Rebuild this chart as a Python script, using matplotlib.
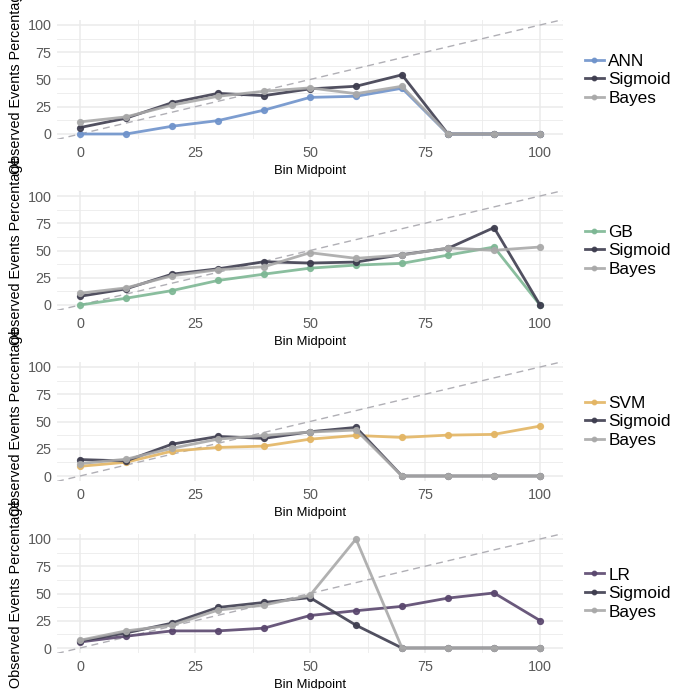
import matplotlib
matplotlib.use("Agg")
import matplotlib.pyplot as plt
from matplotlib.lines import Line2D

plt.rcParams['font.family'] = ['Liberation Sans', 'DejaVu Sans']

bins = [0, 10, 20, 30, 40, 50, 60, 70, 80, 90, 100]

models = ["ANN", "GB", "SVM", "LR"]
model_colors = ["#6F93CB", "#7DB794", "#E3B563", "#5A476E"]

ann = [0, 0, 7.1, 12.3, 21.9, 33.6, 34.6, 42, 0, 0, 0]
ann_sigmoid = [5.9, 14.5, 28.7, 37.3, 35.2, 41.4, 43.8, 54.3, 0, 0, 0]
ann_bayes = [11.1, 15.7, 26.5, 34.6, 39.2, 42.3, 37, 43.8, 0, 0, 0]

gb = [0, 6.2, 13.2, 22.5, 28.3, 33.8, 36.6, 38.2, 45.8, 53.2, 0]
gb_sigmoid = [8, 14.8, 28.3, 33.2, 39.7, 38.5, 39.4, 46.2, 52, 71, 0]
gb_bayes = [10.8, 15.7, 26.8, 32.3, 35.1, 48, 42.8, 45.8, 52.3, 50.2, 53.2]

svm = [8.9, 12.6, 22.8, 26.2, 27.4, 33.8, 37.2, 35.4, 37.5, 38.2, 45.8]
svm_sigmoid = [15.1, 13.8, 29.2, 36.3, 34.5, 40.6, 44.6, 0, 0, 0, 0]
svm_bayes = [11.4, 15.4, 25.5, 33.8, 37.2, 40.3, 42.2, 0, 0, 0, 0]

lr = [5.5, 10.8, 15.7, 15.7, 18.2, 29.8, 34.2, 38.2, 45.8, 50.5, 25.2]
lr_sigmoid = [6.5, 13.8, 22.8, 37.2, 41.8, 46.2, 20.9, 0, 0, 0, 0]
lr_bayes = [7.1, 15.7, 20.9, 34.8, 39.4, 48.3, 100, 0, 0, 0, 0]

raw = [ann, gb, svm, lr]
sig = [ann_sigmoid, gb_sigmoid, svm_sigmoid, lr_sigmoid]
bay = [ann_bayes, gb_bayes, svm_bayes, lr_bayes]

sigmoid_color = "#3E3D4F"
bayes_color = "#A9A9A9"

W, H = 673, 689
fig = plt.figure(figsize=(W / 100, H / 100), dpi=100)

left_px, right_px = 57, 563
zero_px = [134, 305, 476, 648]
ppu = 1.09

for i in range(4):
    top_px = zero_px[i] - 105 * ppu
    bot_px = zero_px[i] + 5 * ppu
    ax = fig.add_axes([left_px / W, 1 - bot_px / H, (right_px - left_px) / W, (bot_px - top_px) / H])
    ax.set_xlim(-5, 105)
    ax.set_ylim(-5, 105)
    ax.set_xticks([0, 25, 50, 75, 100])
    ax.set_yticks([0, 25, 50, 75, 100])
    ax.set_xticks([12.5, 37.5, 62.5, 87.5], minor=True)
    ax.set_yticks([12.5, 37.5, 62.5, 87.5], minor=True)
    ax.grid(True, which='major', color='#EBEBEB', lw=1.1)
    ax.grid(True, which='minor', color='#EBEBEB', lw=0.6)
    ax.set_axisbelow(True)
    for s in ax.spines.values():
        s.set_visible(False)
    ax.tick_params(which='both', length=0, labelsize=10.4, labelcolor='#5A5A5A')
    ax.tick_params(axis='x', pad=5)
    ax.tick_params(axis='y', pad=4)
    ax.plot([-5, 105], [-5, 105], ls=(0, (5, 3.5)), color='#B0AFB5', lw=1.0, zorder=1)
    kw = dict(lw=2.0, marker='o', ms=4.2, alpha=0.9)
    ax.plot(bins, raw[i], color=model_colors[i], zorder=2, **kw)
    ax.plot(bins, sig[i], color=sigmoid_color, zorder=3, **kw)
    ax.plot(bins, bay[i], color=bayes_color, zorder=4, **kw)
    ax.set_xlabel("Bin Midpoint", fontsize=9.4, labelpad=3)

    center_px = zero_px[i] - 50 * ppu
    fig.text(16 / W, 1 - center_px / H, "Observed Events Percentage", rotation=90,
             ha='center', va='center', fontsize=10.4)

    handles = [Line2D([], [], color=c, lw=2.0, marker='o', ms=3.2, alpha=0.9)
               for c in (model_colors[i], sigmoid_color, bayes_color)]
    fig.legend(handles, [models[i], "Sigmoid", "Bayes"], loc='center left',
               bbox_to_anchor=(585 / W, 1 - center_px / H), frameon=False,
               fontsize=12.4, handlelength=1.1, handletextpad=0.25,
               labelspacing=0.2, borderpad=0, borderaxespad=0)

fig.savefig("out.png", dpi=100)
